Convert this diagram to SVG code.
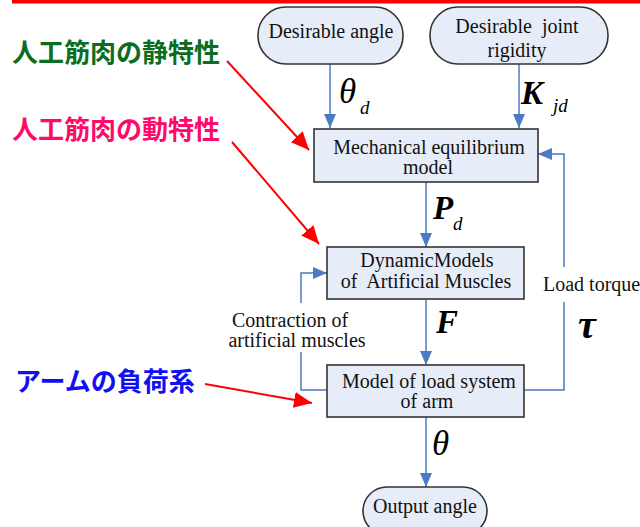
<svg xmlns="http://www.w3.org/2000/svg" width="640" height="527" viewBox="0 0 640 527">
<defs>
<style>
.node rect{fill:#e6edf8;stroke:#333;stroke-width:1.6}
.t{font-size:20px;fill:#111;text-anchor:middle}
.m{font-style:italic;fill:#000}
.b{font-weight:bold}
.jp{font-family:"Noto Sans CJK JP","Noto Sans",sans-serif;font-weight:bold;font-size:26px}
.c{fill:none;stroke:#4a7bc4;stroke-width:1.5}
.r{fill:none;stroke:#ff0000;stroke-width:2}
</style>
<marker id="ah" markerUnits="userSpaceOnUse" markerWidth="14" markerHeight="15" viewBox="0 0 14 15" refX="14" refY="7" orient="auto">
<path d="M0,1 L14,7 L0,13 Z" fill="#4a7bc4"/>
</marker>
<marker id="rh" markerUnits="userSpaceOnUse" markerWidth="19" markerHeight="16" viewBox="0 0 19 16" refX="18" refY="8" orient="auto">
<path d="M0,0 L18,8 L0,16 Z" fill="#ff0000"/>
</marker>
</defs>
<rect x="0" y="0" width="640" height="527" fill="#fff"/>
<rect x="12" y="0" width="628" height="3.5" fill="#ff0000"/>

<g id="connectors">
<path class="c" d="M330,64 V128" marker-end="url(#ah)"/>
<path class="c" d="M519,64 V128" marker-end="url(#ah)"/>
<path class="c" d="M426,182 V247" marker-end="url(#ah)"/>
<path class="c" d="M426,299 V365" marker-end="url(#ah)"/>
<path class="c" d="M426,417 V487" marker-end="url(#ah)"/>
<path class="c" d="M327,390 H301 V352"/>
<path class="c" d="M301,303 V273 H327" marker-end="url(#ah)"/>
<path class="c" d="M524,390 H564 V302"/>
<path class="c" d="M564,267 V154 H538" marker-end="url(#ah)"/>
<path class="r" d="M227,61 L309,150" marker-end="url(#rh)"/>
<path class="r" d="M232,142 L319,244" marker-end="url(#rh)"/>
<path class="r" d="M205,384 L312,403" marker-end="url(#rh)"/>
</g>

<g id="label-static"><text class="jp" x="12" y="62" fill="#0b6e1f">人工筋肉の静特性</text></g>
<g id="label-dynamic"><text class="jp" x="12" y="139" fill="#ff0a6a">人工筋肉の動特性</text></g>
<g id="label-load"><text class="jp" x="15" y="391" fill="#1010f0">アームの負荷系</text></g>

<g font-family="'Liberation Serif', 'DejaVu Serif', serif">
<g id="desirable-angle" class="node">
<rect x="258" y="7" width="145" height="57" rx="28" ry="28"/>
<text class="t" x="331" y="38">Desirable angle</text>
</g>
<g id="desirable-rigidity" class="node">
<rect x="430" y="7" width="178" height="57" rx="28" ry="28"/>
<text class="t" x="517" y="33" xml:space="preserve">Desirable  joint</text>
<text class="t" x="517" y="57">rigidity</text>
</g>
<g id="mechanical" class="node">
<rect x="314" y="129" width="224" height="53"/>
<text class="t" x="429" y="154">Mechanical equilibrium</text>
<text class="t" x="428" y="174">model</text>
</g>
<g id="dynamic" class="node">
<rect x="327" y="247" width="197" height="52"/>
<text class="t" x="427" y="267">DynamicModels</text>
<text class="t" x="426" y="288" xml:space="preserve">of  Artificial Muscles</text>
</g>
<g id="load" class="node">
<rect x="327" y="365" width="197" height="52"/>
<text class="t" x="429" y="388">Model of load system</text>
<text class="t" x="427" y="408">of arm</text>
</g>
<g id="output" class="node">
<rect x="363" y="487" width="124" height="48" rx="24" ry="24"/>
<text class="t" x="425" y="513">Output angle</text>
</g>

<g id="edge-labels">
<text class="m" x="339" y="103" font-size="35">θ</text>
<text class="m" x="360" y="114" font-size="19">d</text>
<text class="m b" x="521" y="104" font-size="33">K</text>
<text class="m" x="553" y="112" font-size="19">jd</text>
<text class="m b" x="433" y="219" font-size="33">P</text>
<text class="m" x="453" y="230" font-size="19">d</text>
<text class="m b" x="436" y="333" font-size="33">F</text>
<text class="m" x="432" y="455" font-size="35">θ</text>
<text class="m b" x="578" y="338" font-size="40">τ</text>
<text class="t" x="543" y="291" style="text-anchor:start">Load torque</text>
<text class="t" x="290" y="327">Contraction of</text>
<text class="t" x="297" y="347">artificial muscles</text>
</g>
</g>
</svg>
